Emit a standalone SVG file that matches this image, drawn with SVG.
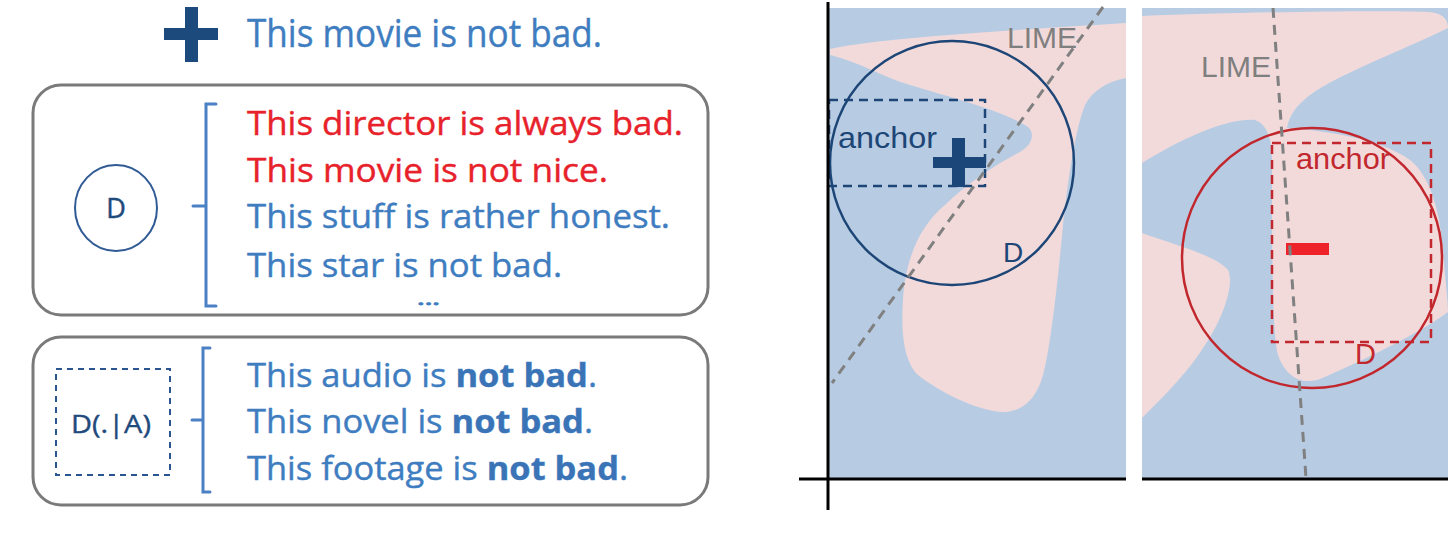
<svg xmlns="http://www.w3.org/2000/svg" width="1455" height="546" viewBox="0 0 1455 546">
<style>
.sent{font-family:"Open Sans","Noto Sans","Liberation Sans",sans-serif;font-size:32px}
.blue{fill:#3f7dc1;stroke:#3f7dc1;stroke-width:0.4}
.red{fill:#e8222b;stroke:#e8222b;stroke-width:0.4}
.box{fill:none;stroke:#7a7a7a;stroke-width:3}
.brk{fill:none;stroke:#4a80c4;stroke-width:3;stroke-linecap:round}
.lbl{font-family:"Liberation Sans",Arial,sans-serif;font-size:30px}
.lime{stroke:#808080;stroke-width:3;stroke-dasharray:10 7;fill:none}
.bg{fill:#b7cce3}
.pk{fill:#f2dadb}
.ax{stroke:#000;stroke-width:3}
</style>
<rect width="1455" height="546" fill="#fff"/>

<g id="top-example">
  <rect x="185" y="7" width="13" height="55" fill="#1c4a7c"/>
  <rect x="164" y="28" width="54" height="12" fill="#1c4a7c"/>
  <text class="sent blue" x="247" y="47" style="font-size:38px" textLength="355" lengthAdjust="spacingAndGlyphs">This movie is not bad.</text>
</g>

<g id="box-D">
  <rect class="box" x="33" y="85" width="675" height="230" rx="28"/>
  <ellipse cx="116" cy="208" rx="41" ry="43" fill="none" stroke="#2f5a94" stroke-width="2"/>
  <text x="116" y="218" text-anchor="middle" style="font-family:'Open Sans',sans-serif;font-size:27px;fill:#1f4a7c;stroke:#1f4a7c;stroke-width:0.5">D</text>
  <path class="brk" d="M216,104 L206,104 L206,306 L216,306 M193,206 L206,206"/>
  <text class="sent red" x="247" y="135" textLength="436" lengthAdjust="spacingAndGlyphs">This director is always bad.</text>
  <text class="sent red" x="247" y="182" textLength="361" lengthAdjust="spacingAndGlyphs">This movie is not nice.</text>
  <text class="sent blue" x="247" y="228" textLength="423" lengthAdjust="spacingAndGlyphs">This stuff is rather honest.</text>
  <text class="sent blue" x="247" y="277" textLength="315" lengthAdjust="spacingAndGlyphs">This star is not bad.</text>
  <text class="sent blue" x="417" y="305" style="font-size:18px;stroke-width:1" textLength="23" lengthAdjust="spacingAndGlyphs">...</text>
</g>

<g id="box-DA">
  <rect class="box" x="33" y="337" width="675" height="168" rx="28"/>
  <rect x="56" y="369" width="114" height="106" fill="none" stroke="#2a5590" stroke-width="2" stroke-dasharray="6 5"/>
  <text x="111" y="433" text-anchor="middle" textLength="80" lengthAdjust="spacingAndGlyphs" style="font-family:'Open Sans',sans-serif;font-size:26px;fill:#1f4a7c;stroke:#1f4a7c;stroke-width:0.4">D(.|A)</text>
  <path class="brk" d="M210,348 L203,348 L203,492 L210,492 M192,420 L203,420"/>
  <text class="sent blue" x="247" y="387" textLength="350" lengthAdjust="spacingAndGlyphs">This audio is <tspan font-weight="bold" fill="#3a74b6">not bad</tspan>.</text>
  <text class="sent blue" x="247" y="433" textLength="346" lengthAdjust="spacingAndGlyphs">This novel is <tspan font-weight="bold" fill="#3a74b6">not bad</tspan>.</text>
  <text class="sent blue" x="247" y="480" textLength="381" lengthAdjust="spacingAndGlyphs">This footage is <tspan font-weight="bold" fill="#3a74b6">not bad</tspan>.</text>
</g>

<g id="panel-positive">
  <rect class="bg" x="828" y="8" width="298" height="471"/>
  <path class="pk" d="M830,49 C870,40 950,34 1126,23 L1126,78 C1105,82 1092,92 1085,105 C1075,130 1068,180 1063,225 C1057,290 1050,350 1043,375 C1036,400 1022,412 1002,412 C975,410 940,392 918,375 C903,360 901,330 903,300 C905,260 920,225 945,205 C965,185 995,165 1020,152 C1035,143 1035,130 1025,125 C1000,110 950,97 910,85 C880,76 860,62 830,55 Z"/>
  <circle cx="952" cy="163" r="122" fill="none" stroke="#1d4677" stroke-width="2.5"/>
  <rect x="829" y="100" width="156" height="86" fill="none" stroke="#1d4677" stroke-width="2.5" stroke-dasharray="9 6"/>
  <text class="lbl" x="838" y="148" fill="#1d4677" textLength="99" lengthAdjust="spacingAndGlyphs">anchor</text>
  <rect x="952" y="138" width="13" height="49" fill="#1b4679"/>
  <rect x="933" y="157" width="53" height="11" fill="#1b4679"/>
  <text class="lbl" x="1003" y="262" fill="#1d4677" style="font-size:28px">D</text>
  <text class="lbl" x="1007" y="48" fill="#7f7f7f">LIME</text>
  <line class="lime" x1="1103" y1="7" x2="832" y2="383"/>
  <line class="ax" x1="828" y1="2" x2="828" y2="510"/>
  <line class="ax" x1="799" y1="479" x2="1126" y2="479"/>
</g>

<g id="panel-negative">
  <rect class="bg" x="1142" y="8" width="306" height="471"/>
  <path class="pk" d="M1142,16 C1250,12 1380,10 1430,12 C1446,14 1448,22 1448,28 C1420,42 1370,62 1335,80 C1305,95 1290,110 1287,128 C1320,130 1380,138 1410,160 C1432,178 1440,215 1443,250 C1445,280 1448,300 1448,312 C1420,333 1360,362 1320,379 C1300,386 1285,375 1278,355 C1272,330 1272,250 1272,160 C1272,140 1268,125 1255,120 C1225,118 1180,140 1142,163 Z"/>
  <path class="pk" d="M1142,233 C1175,245 1215,255 1228,270 C1235,285 1222,320 1205,345 C1190,370 1165,395 1142,418 Z"/>
  <circle cx="1312" cy="258" r="130" fill="none" stroke="#c1272d" stroke-width="2.5"/>
  <rect x="1272" y="143" width="159" height="199" fill="none" stroke="#c1272d" stroke-width="2.5" stroke-dasharray="9 6"/>
  <text class="lbl" x="1296" y="169" fill="#c1272d" textLength="94" lengthAdjust="spacingAndGlyphs">anchor</text>
  <rect x="1286" y="243" width="43" height="12" fill="#ee2229"/>
  <text class="lbl" x="1355" y="364" fill="#c1272d" style="font-size:29px">D</text>
  <text class="lbl" x="1201" y="77" fill="#7f7f7f">LIME</text>
  <line class="lime" x1="1273" y1="8" x2="1306" y2="478"/>
  <line class="ax" x1="1142" y1="479" x2="1448" y2="479"/>
</g>
</svg>
